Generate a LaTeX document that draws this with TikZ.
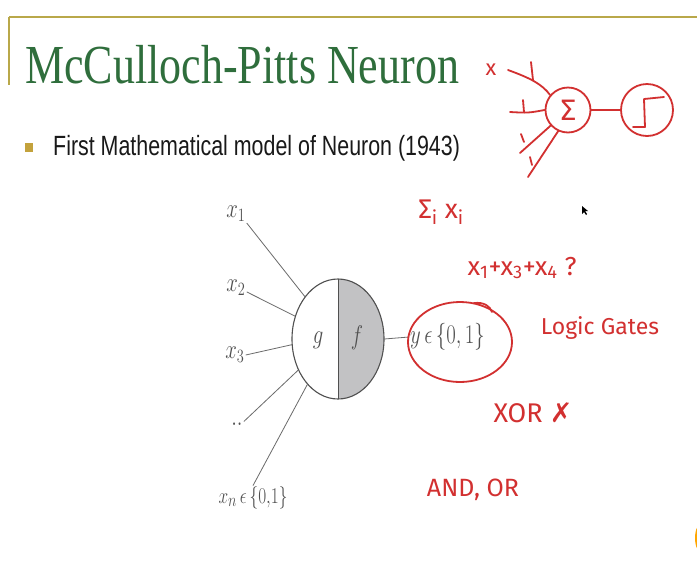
\documentclass[tikz,border=0pt]{standalone}
\usepackage{fontspec}
\usetikzlibrary{shapes.geometric}
\newfontfamily\titlefont{Liberation Serif}
\newfontfamily\bodyfont{Liberation Sans}
\newfontfamily\handfont{Fira Sans}
\newfontfamily\symfont{DejaVu Sans}
\definecolor{titlegreen}{HTML}{2F6E3C}
\definecolor{gold}{HTML}{B9A84A}
\definecolor{bulletgold}{HTML}{C3A23C}
\definecolor{ink}{HTML}{505050}
\definecolor{fgray}{HTML}{C2C2C4}
\definecolor{pen}{HTML}{D23030}
\newcommand{\vs}[1]{\scalebox{1}[1.3]{#1}}
\begin{document}
\begin{tikzpicture}[x=1pt,y=-1pt,
  lbl/.style={text=ink, inner sep=1pt, font=\fontsize{21}{24}\selectfont},
  wire/.style={draw=ink!85, line width=0.8pt},
  penline/.style={draw=pen, line width=1.8pt, line cap=round, line join=round},
  hand/.style={text=pen, inner sep=0pt, font=\handfont\fontsize{22}{26}\selectfont}]
\useasboundingbox[fill=white] (0,0) rectangle (697,582);

% slide frame
\draw[gold, line width=1.6pt] (9,17) -- (697,17);
\draw[gold, line width=1.2pt] (9,17) -- (9,85);

% title and bullet
\node[anchor=base west, text=titlegreen, inner sep=0pt] (title) at (25,83)
  {\titlefont\fontsize{44}{50}\selectfont\scalebox{1}[1.25]{McCulloch-Pitts Neuron}};
\node[fill=bulletgold, minimum width=8pt, minimum height=9pt, inner sep=0pt] (bullet) at (29,147.5) {};
\node[anchor=base west, inner sep=0pt, text=black!90] (bullettext) at (53,155)
  {\bodyfont\fontsize{21.4}{26}\selectfont\scalebox{1}[1.3]{First Mathematical model of Neuron (1943)}};

% neuron
\path node[ellipse, minimum width=92pt, minimum height=120pt, inner sep=0pt] (neuron) at (338,339) {};
\fill[fgray] (neuron.north) arc[start angle=90, end angle=-90, x radius=46pt, y radius=60pt] -- cycle;
\draw[ink, line width=0.8pt] (neuron.north) -- (neuron.south);
\draw[ink, line width=1.1pt] (neuron.center) ellipse[x radius=46pt, y radius=60pt];
\node[lbl] (g) at (318,340) {\vs{$g$}};
\node[lbl] (f) at (357,338) {\vs{$f$}};

% inputs
\node[lbl] (x1) at (236,214) {\vs{$x_1$}};
\node[lbl] (x2) at (236,288) {\vs{$x_2$}};
\node[lbl] (x3) at (235,355) {\vs{$x_3$}};
\node[lbl] (xd) at (237,424) {\vs{$..$}};
\node[lbl, font=\fontsize{19}{22}\selectfont] (xn) at (253,498) {\vs{$x_n\,\epsilon\,\{0{,}1\}$}};
\draw[wire] (x1.south east) -- (neuron.128);
\draw[wire] (x2.-20) -- (neuron.152);
\draw[wire] (x3.east) -- (neuron.187);
\draw[wire] (xd.north east) -- (neuron.218);
\draw[wire] (xn.north) -- (neuron.236);

% output
\node[lbl, anchor=west] (y) at (409,337) {\vs{$y\,\epsilon\,\{0,1\}$}};
\draw[wire] (neuron.east) -- (y.west);

% red annotations
\node[ellipse, penline, minimum width=104pt, minimum height=80pt] (ring) at (460,342) {};
\draw[penline] (474,303) .. controls (484,302) and (490,306) .. (492,312);

\node[circle, penline, minimum size=45pt, inner sep=0pt, text=pen, font=\symfont\fontsize{28}{30}\selectfont] (sum) at (568,110) {Σ};
\node[circle, penline, minimum size=52pt, inner sep=0pt] (act) at (647,110) {};
\draw[penline] (sum) -- (act);
\draw[penline] (633,127) -- (645,127) -- (644,99) -- (664,97);

\node[hand] (xi) at (491,70) {x};
\coordinate (i1) at (508,70);
\coordinate (i2) at (510,112);
\coordinate (i3) at (520,153);
\coordinate (i4) at (528,177);
\draw[penline] (i1) .. controls (530,78) and (542,84) .. (sum.140);
\draw[penline] (531,62) -- (533,80);
\draw[penline] (i2) .. controls (528,113) .. (sum.west);
\draw[penline] (523,100) -- (524,112);
\draw[penline] (i3) -- (sum.222);
\draw[penline] (521,134) -- (524,142);
\draw[penline] (i4) -- (sum.245);
\draw[penline] (530,157) -- (532,165);

\node[hand, font=\handfont\fontsize{27}{30}\selectfont] (sumxi) at (441,212) {Σ\textsubscript{i} x\textsubscript{i}};
\node[hand, font=\handfont\fontsize{26}{30}\selectfont] (sumx) at (522,268) {x\textsubscript{1}+x\textsubscript{3}+x\textsubscript{4} ?};
\node[hand, font=\handfont\fontsize{23}{26}\selectfont] (lg) at (600,328) {Logic Gates};
\node[hand, font=\handfont\fontsize{27}{30}\selectfont] (xor) at (533,413) {XOR {\symfont ✗}};
\node[hand, font=\handfont\fontsize{25}{28}\selectfont] (andor) at (473,490) {AND, OR};

% cursor and edge mark
\fill[black] (582,206) -- (582,214) -- (584,212) -- (586,215) -- (587,214) -- (585,211) -- (588,211) -- cycle;
\fill[orange!70!yellow] (699,538) ellipse[x radius=4pt, y radius=12pt];
\end{tikzpicture}
\end{document}
